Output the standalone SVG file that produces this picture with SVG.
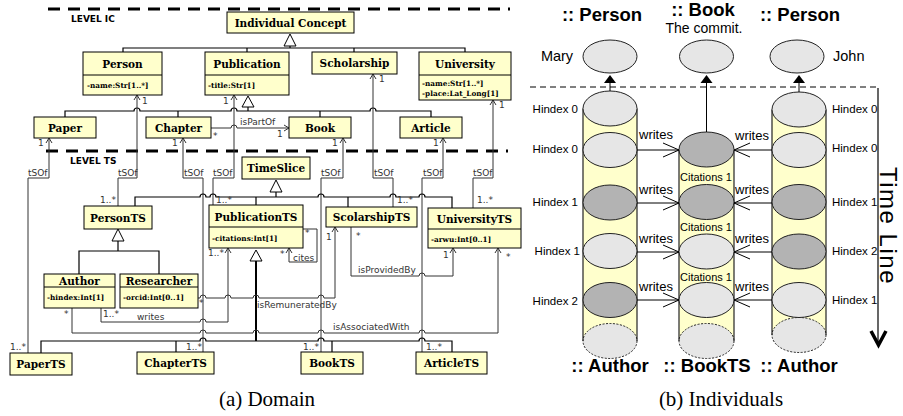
<svg xmlns="http://www.w3.org/2000/svg" width="903" height="416" viewBox="0 0 903 416">
<defs>
<style>
.bx{fill:#ffffcc;stroke:#000;stroke-width:1}
.cn{font-family:"DejaVu Serif",serif;font-weight:bold;font-size:10.5px;text-anchor:middle;fill:#000}
.at{font-family:"DejaVu Serif",serif;font-weight:bold;font-size:7.3px;fill:#000}
.lb{font-family:"DejaVu Sans",sans-serif;font-size:9px;fill:#333}
.lv{font-family:"DejaVu Sans",sans-serif;font-weight:bold;font-size:9px;fill:#000}
.ln{fill:none;stroke:#333;stroke-width:1}
.gl{fill:none;stroke:#000;stroke-width:1.2}
.gen{fill:#fff;stroke:#000;stroke-width:1}
.ah{fill:none;stroke:#333;stroke-width:1}
.sf{font-family:"Liberation Sans",Arial,sans-serif;fill:#000}
.ttl{font-family:"Liberation Sans",Arial,sans-serif;font-weight:bold;font-size:18.5px;text-anchor:middle;fill:#000}
.hx{font-family:"Liberation Sans",Arial,sans-serif;font-size:11.5px;fill:#000}
.wr{font-family:"Liberation Sans",Arial,sans-serif;font-size:13px;fill:#000}
.ct{font-family:"Liberation Sans",Arial,sans-serif;font-size:11px;fill:#000}
.cap{font-family:"Liberation Serif","Times New Roman",serif;font-size:21px;text-anchor:middle;fill:#000}
.el{stroke:#222;stroke-width:1}
.lg{fill:#e6e6e6}
.dk{fill:#b3b3b3}
.body{fill:#ffffcc;stroke:none}
.side{stroke:#222;stroke-width:1.2}
.ia{fill:none;stroke:#000;stroke-width:1}
</style>
</defs>
<rect x="0" y="0" width="903" height="416" fill="#fff"/>

<!-- ============ (a) Domain ============ -->
<g id="levels">
<line x1="48" y1="9" x2="510" y2="9" stroke="#000" stroke-width="3" stroke-dasharray="12 8"/>
<text class="lv" x="71" y="22">LEVEL IC</text>
<line x1="46" y1="151" x2="508" y2="151" stroke="#000" stroke-width="3" stroke-dasharray="12 8"/>
<text class="lv" x="70" y="164">LEVEL TS</text>
</g>

<g id="connectors">
<!-- IC generalization -->
<path class="gl" d="M290,46 V48 M123,52 V48 H465 V52 M247,48 V52 M354,48 V52"/>
<polygon class="gen" points="290,34 284,46 296,46"/>
<!-- Publication generalization -->
<path class="gl" d="M248,107 V111 M65,117 V111 H134 A3,3 0 0 1 140,111 H231 A3,3 0 0 1 237,111 H370 A3,3 0 0 1 376,111 H431 V117 M178,111 V117 M320,111 V117"/>
<polygon class="gen" points="248,96 242,107 254,107"/>
<!-- isPartOf -->
<path class="ln" d="M211,128 H231 A3,3 0 0 1 237,128 H289"/>
<path class="ah" d="M284,125 L289,128 L284,131"/>

<!-- tSOf connectors -->
<path class="ln" d="M49,138 V178 H28 V353"/>
<path class="ln" d="M137,95 V178 H118 V206"/>
<path class="ln" d="M183,138 V178 H203 V352"/>
<path class="ln" d="M234,95 V178 H213 V205"/>
<path class="ln" d="M343,138 V178 H321 V352"/>
<path class="ln" d="M373,74 V178 H393 V207"/>
<path class="ln" d="M443,138 V178 H422 V352"/>
<path class="ln" d="M493,100 V178 H473 V208"/>
<path class="ah" d="M46,143 L49,138 L52,143 M134,100 L137,95 L140,100 M180,143 L183,138 L186,143 M231,100 L234,95 L237,100 M340,143 L343,138 L346,143 M370,79 L373,74 L376,79 M440,143 L443,138 L446,143 M490,105 L493,100 L496,105"/>

<!-- TimeSlice generalization -->
<path class="gl" d="M276,192 V197 M135,206 V197 H200 A3,3 0 0 1 206,197 H210 A3,3 0 0 1 216,197 H318 A3,3 0 0 1 324,197 H390 A3,3 0 0 1 396,197 H419 A3,3 0 0 1 425,197 H452 V208 M256,197 V205 M348,197 V207"/>
<polygon class="gen" points="276,180 270,192 282,192"/>

<!-- PersonTS generalization -->
<path class="gl" d="M118,241 V251 M79,274 V251 H159 V274"/>
<polygon class="gen" points="118,229 112,241 124,241"/>

<!-- PublicationTS generalization -->
<path fill="none" stroke="#000" stroke-width="2" d="M256,261 V341"/>
<path class="gl" d="M41,353 V341 H200 A3,3 0 0 1 206,341 H318 A3,3 0 0 1 324,341 H419 A3,3 0 0 1 425,341 H452 V352 M176,341 V352 M332,341 V352"/>
<polygon class="gen" points="256,250 250,261 262,261"/>

<!-- cites -->
<path class="ln" d="M303,229 H317 V262 H289 V248"/>
<path class="ah" d="M286,253 L289,248 L292,253"/>

<!-- writes -->
<path class="ln" d="M101,308 V322 H200 A3,3 0 0 1 206,322 H228 V248"/>
<path class="ah" d="M225,253 L228,248 L231,253"/>

<!-- isRemuneratedBy -->
<path class="ln" d="M198,298 H200 A3,3 0 0 1 206,298 H225 A3,3 0 0 1 231,298 H253 A3,3 0 0 1 259,298 H318 A3,3 0 0 1 324,298 H335 V227"/>
<path class="ah" d="M332,232 L335,227 L338,232"/>

<!-- isProvidedBy -->
<path class="ln" d="M351,227 V276 H419 A3,3 0 0 1 425,276 H453 V248"/>
<path class="ah" d="M450,253 L453,248 L456,253"/>

<!-- isAssociatedWith -->
<path class="ln" d="M72,308 V333 H200 A3,3 0 0 1 206,333 H253 A3,3 0 0 1 259,333 H318 A3,3 0 0 1 324,333 H419 A3,3 0 0 1 425,333 H498 V248"/>
<path class="ah" d="M495,253 L498,248 L501,253"/>

<!-- connector labels -->
<g class="lb">
<text x="142" y="104">1</text>
<text x="223" y="104">1</text>
<text x="379" y="82">1</text>
<text x="499" y="108">1</text>
<text x="38" y="146">1</text>
<text x="172" y="146">1</text>
<text x="332" y="146">1</text>
<text x="433" y="146">1</text>
<text x="240" y="125">isPartOf</text>
<text x="213" y="139">*</text>
<text x="277" y="137">1</text>
<text x="28" y="176">tSOf</text>
<text x="118" y="176">tSOf</text>
<text x="184" y="176">tSOf</text>
<text x="213" y="176">tSOf</text>
<text x="321" y="176">tSOf</text>
<text x="374" y="176">tSOf</text>
<text x="423" y="176">tSOf</text>
<text x="473" y="176">tSOf</text>
<text x="100" y="203">1..*</text>
<text x="216" y="203">1..*</text>
<text x="397" y="203">1..*</text>
<text x="477" y="203">1..*</text>
<text x="10" y="350">1..*</text>
<text x="186" y="350">1..*</text>
<text x="303" y="350">1..*</text>
<text x="426" y="350">1..*</text>
<text x="305" y="236">*</text>
<text x="280" y="257">*</text>
<text x="293" y="261">cites</text>
<text x="208" y="256">1..*</text>
<text x="64" y="317">*</text>
<text x="103" y="317">1..*</text>
<text x="137" y="320">writes</text>
<text x="199" y="306">*</text>
<text x="257" y="308">isRemuneratedBy</text>
<text x="326" y="240">1</text>
<text x="356" y="239">*</text>
<text x="358" y="273">isProvidedBy</text>
<text x="443" y="258">1</text>
<text x="506" y="260">*</text>
<text x="333" y="330">isAssociatedWith</text>
</g>
</g>

<!-- IC classes -->
<g id="IndividualConcept"><rect class="bx" x="227" y="12" width="127" height="21"/><text class="cn" x="290.5" y="27">Individual Concept</text></g>
<g id="Person"><rect class="bx" x="83" y="52" width="79" height="43"/><line x1="83" y1="75" x2="162" y2="75" stroke="#000"/><text class="cn" x="122.5" y="68">Person</text><text class="at" x="87" y="88">-name:Str[1..*]</text></g>
<g id="Publication"><rect class="bx" x="205" y="52" width="84" height="43"/><line x1="205" y1="75" x2="289" y2="75" stroke="#000"/><text class="cn" x="247" y="68">Publication</text><text class="at" x="208" y="88">-title:Str[1]</text></g>
<g id="Scholarship"><rect class="bx" x="312" y="52" width="85" height="22"/><text class="cn" x="354.5" y="67">Scholarship</text></g>
<g id="University"><rect class="bx" x="419" y="52" width="92" height="48"/><line x1="419" y1="75" x2="511" y2="75" stroke="#000"/><text class="cn" x="465" y="68">University</text><text class="at" x="422" y="86">-name:Str[1..*]</text><text class="at" x="422" y="96">-place:Lat_Long[1]</text></g>
<g id="Paper"><rect class="bx" x="34" y="117" width="62" height="21"/><text class="cn" x="65" y="131.5">Paper</text></g>
<g id="Chapter"><rect class="bx" x="146" y="117" width="65" height="21"/><text class="cn" x="178.5" y="131.5">Chapter</text></g>
<g id="Book"><rect class="bx" x="289" y="117" width="62" height="21"/><text class="cn" x="320" y="131.5">Book</text></g>
<g id="Article"><rect class="bx" x="400" y="117" width="62" height="21"/><text class="cn" x="431" y="131.5">Article</text></g>

<!-- TS classes -->
<g id="TimeSlice"><rect class="bx" x="242" y="157" width="68" height="22"/><text class="cn" x="276" y="172">TimeSlice</text></g>
<g id="PersonTS"><rect class="bx" x="84" y="206" width="68" height="23"/><text class="cn" x="118" y="221.5">PersonTS</text></g>
<g id="PublicationTS"><rect class="bx" x="209" y="205" width="94" height="43"/><line x1="209" y1="227" x2="303" y2="227" stroke="#000"/><text class="cn" x="256" y="220.5">PublicationTS</text><text class="at" x="212" y="241">-citations:Int[1]</text></g>
<g id="ScolarshipTS"><rect class="bx" x="326" y="207" width="91" height="20"/><text class="cn" x="371.5" y="221">ScolarshipTS</text></g>
<g id="UniversityTS"><rect class="bx" x="428" y="208" width="93" height="40"/><line x1="428" y1="229" x2="521" y2="229" stroke="#000"/><text class="cn" x="474.5" y="223">UniversityTS</text><text class="at" x="431" y="242">-arwu:Int[0..1]</text></g>
<g id="Author"><rect class="bx" x="44" y="274" width="71" height="34"/><line x1="44" y1="287" x2="115" y2="287" stroke="#000"/><text class="cn" x="79.5" y="284.5">Author</text><text class="at" x="47" y="300">-hindex:Int[1]</text></g>
<g id="Researcher"><rect class="bx" x="120" y="274" width="78" height="34"/><line x1="120" y1="287" x2="198" y2="287" stroke="#000"/><text class="cn" x="159" y="284.5">Researcher</text><text class="at" x="123" y="300">-orcid:Int[0..1]</text></g>
<g id="PaperTS"><rect class="bx" x="10" y="353" width="62" height="22"/><text class="cn" x="41" y="368">PaperTS</text></g>
<g id="ChapterTS"><rect class="bx" x="137" y="352" width="77" height="22"/><text class="cn" x="175.5" y="367">ChapterTS</text></g>
<g id="BookTS"><rect class="bx" x="301" y="352" width="62" height="22"/><text class="cn" x="332" y="367">BookTS</text></g>
<g id="ArticleTS"><rect class="bx" x="416" y="352" width="71" height="22"/><text class="cn" x="451.5" y="367">ArticleTS</text></g>

<text class="cap" x="267" y="406">(a) Domain</text>

<!-- ============ (b) Individuals ============ -->
<g id="titles">
<text class="ttl" x="602" y="21">:: Person</text>
<text class="ttl" x="703" y="15.5">:: Book</text>
<text class="sf" x="704" y="32.5" font-size="14" text-anchor="middle">The commit.</text>
<text class="ttl" x="800" y="21">:: Person</text>
<text class="ttl" x="610" y="372">:: Author</text>
<text class="ttl" x="707" y="372">:: BookTS</text>
<text class="ttl" x="799" y="372">:: Author</text>
</g>

<g id="Mary"><ellipse class="el lg" cx="610" cy="56.5" rx="27" ry="16.5"/><text class="sf" x="557" y="61" font-size="14.5" text-anchor="middle">Mary</text></g>
<g id="TheCommit"><ellipse class="el lg" cx="706.5" cy="56.5" rx="27" ry="16.5"/></g>
<g id="John"><ellipse class="el lg" cx="797" cy="56.5" rx="27" ry="16.5"/><text class="sf" x="833" y="61" font-size="14.5">John</text></g>

<line x1="530" y1="87" x2="877" y2="87" stroke="#000" stroke-width="1" stroke-dasharray="6 4"/>

<!-- Author cylinder (Mary) -->
<g id="AuthorMary">
<rect class="body" x="583" y="108.5" width="54" height="232.5"/>
<ellipse class="lg" cx="610" cy="341" rx="27" ry="17.5" stroke="#222" stroke-width="1" stroke-dasharray="2 1.5"/>
<line class="side" x1="583" y1="108.5" x2="583" y2="341"/>
<line class="side" x1="637" y1="108.5" x2="637" y2="341"/>
<ellipse class="el dk" cx="610" cy="300" rx="27" ry="17.5"/>
<ellipse class="el lg" cx="610" cy="251" rx="27" ry="17.5"/>
<ellipse class="el dk" cx="610" cy="202.5" rx="27" ry="17.5"/>
<ellipse class="el lg" cx="610" cy="150" rx="27" ry="17.5"/>
<ellipse class="el lg" cx="610" cy="108.5" rx="27" ry="17.5"/>
<g class="hx" text-anchor="end">
<text x="578" y="113">Hindex 0</text>
<text x="578" y="153">Hindex 0</text>
<text x="578" y="206">Hindex 1</text>
<text x="580" y="255">Hindex 1</text>
<text x="578" y="305">Hindex 2</text>
</g>
</g>

<!-- BookTS cylinder -->
<g id="BookTSInd">
<rect class="body" x="679" y="150" width="55" height="191"/>
<ellipse class="lg" cx="706.5" cy="341" rx="27.5" ry="17.5" stroke="#222" stroke-width="1" stroke-dasharray="2 1.5"/>
<line class="side" x1="679" y1="150" x2="679" y2="341"/>
<line class="side" x1="734" y1="150" x2="734" y2="341"/>
<ellipse class="el lg" cx="706.5" cy="300" rx="27.5" ry="17.5"/>
<ellipse class="el lg" cx="706.5" cy="251.5" rx="27.5" ry="17.5"/>
<ellipse class="el dk" cx="706.5" cy="202" rx="27.5" ry="17.5"/>
<ellipse class="el dk" cx="706.5" cy="149.5" rx="27.5" ry="17.5"/>
<g class="ct">
<text x="680" y="181">Citations 1</text>
<text x="680" y="231">Citations 1</text>
<text x="680" y="281">Citations 1</text>
</g>
</g>

<!-- Author cylinder (John) -->
<g id="AuthorJohn">
<rect class="body" x="772" y="109.5" width="54" height="225.5"/>
<ellipse class="lg" cx="799" cy="335" rx="27" ry="17.5" stroke="#222" stroke-width="1" stroke-dasharray="2 1.5"/>
<line class="side" x1="772" y1="109.5" x2="772" y2="335"/>
<line class="side" x1="826" y1="109.5" x2="826" y2="335"/>
<ellipse class="el lg" cx="799" cy="300" rx="27" ry="17.5"/>
<ellipse class="el dk" cx="799" cy="251.5" rx="27" ry="17.5"/>
<ellipse class="el dk" cx="799" cy="202" rx="27" ry="17.5"/>
<ellipse class="el lg" cx="799" cy="150" rx="27" ry="17.5"/>
<ellipse class="el lg" cx="799" cy="109.5" rx="27" ry="17.5"/>
<g class="hx">
<text x="832" y="113">Hindex 0</text>
<text x="832" y="152">Hindex 0</text>
<text x="832" y="206">Hindex 1</text>
<text x="832" y="255">Hindex 2</text>
<text x="832" y="304">Hindex 1</text>
</g>
</g>

<g id="instanceConnectors">
<path class="ia" d="M610,91 V82 M706.5,132 V82 M799,92 V82"/>
<polygon points="604,83 610,75 616,83" fill="#000"/>
<polygon points="700.5,83 706.5,75 712.5,83" fill="#000"/>
<polygon points="793,83 799,75 805,83" fill="#000"/>
<path class="ia" d="M637,150 H679 M663,143 L679,150 L663,157 M637,203 H679 M663,196 L679,203 L663,210 M637,252 H679 M663,245 L679,252 L663,259 M637,300 H679 M663,293 L679,300 L663,307"/>
<path class="ia" d="M772,150 H734 M750,143 L734,150 L750,157 M772,203 H734 M750,196 L734,203 L750,210 M772,252 H734 M750,245 L734,252 L750,259 M772,300 H734 M750,293 L734,300 L750,307"/>
<g class="wr">
<text x="639" y="139">writes</text>
<text x="639" y="194">writes</text>
<text x="639" y="243">writes</text>
<text x="639" y="291">writes</text>
<text x="735" y="140">writes</text>
<text x="735" y="194">writes</text>
<text x="735" y="243">writes</text>
<text x="735" y="291">writes</text>
</g>
</g>

<g id="TimeLine">
<line x1="878" y1="88" x2="878" y2="344" stroke="#000" stroke-width="1.2"/>
<polyline points="871,331 878.5,345 886,331" fill="none" stroke="#000" stroke-width="3.5"/>
<text class="sf" font-size="24" letter-spacing="1.5" transform="translate(880,167) rotate(90)">Time Line</text>
</g>

<text class="cap" x="721" y="406">(b) Individuals</text>
</svg>
